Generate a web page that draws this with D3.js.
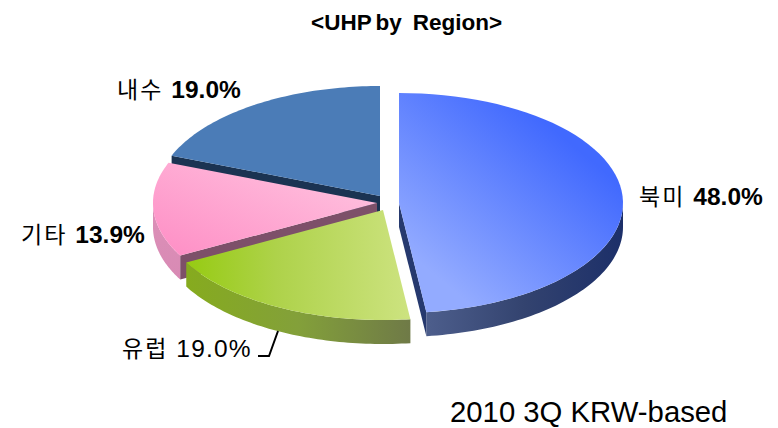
<!DOCTYPE html>
<html lang="ko">
  <head>
    <meta charset="UTF-8" />
    <title>UHP by Region</title>
    <style>
      html, body { margin: 0; padding: 0; background: #fff; }
      svg { display: block; }
      text { font-family: "Liberation Sans", Arial, sans-serif; fill: #000; }
      .kr { font-family: "Noto Sans CJK KR", sans-serif; font-weight: 400; }
    </style>
  </head>
  <body>
    <div class="container"></div>
    <script src="https://d3js.org/d3.v7.min.js"></script>
    <script>
      // data
      const regions = ["북미", "유럽", "기타", "내수"];
      const shares = [48.0, 19.0, 13.9, 19.0];
      const shareLabels = ["48.0%", "19.0%", "13.9%", "19.0%"];

      // layout
      const width = 778, height = 428;
      const rx = 224, ry = 110, depth = 24;
      const centers = [[399, 203], [383, 210], [377, 203], [380, 196]];
      const labelPos = [[639, 205], [122, 357], [21, 243], [117, 98]];
      const labelBold = [true, false, true, true];

      const topColors = ["url(#blueTop)", "url(#greenTop)", "url(#pinkTop)", "#4b7cb7"];
      const wallColors = ["url(#blueWall)", "url(#greenWall)", "url(#pinkWall)", "#1b3352"];
      const edgeColors = ["#26396e", "#6f7f3a", "#7d5069", "#1b3352"];

      const svg = d3.select(".container").append("svg")
        .attr("width", width).attr("height", height);

      // gradients
      const defs = svg.append("defs");
      function gradient(id, x1, y1, x2, y2, stops) {
        const g = defs.append("linearGradient").attr("id", id)
          .attr("x1", x1).attr("y1", y1).attr("x2", x2).attr("y2", y2);
        stops.forEach((s) => g.append("stop").attr("offset", s[0]).attr("stop-color", s[1]));
      }
      gradient("blueTop", 0.85, 0.3, 0.3, 0.95, [[0, "#4169fe"], [1, "#93abff"]]);
      gradient("greenTop", 0, 0.5, 1, 0.5, [[0, "#96cb12"], [0.4, "#aed24a"], [1, "#cde380"]]);
      gradient("pinkTop", 0, 0.9, 0.9, 0.1, [[0, "#fe90c6"], [1, "#ffc2df"]]);
      gradient("blueWall", 0, 0.5, 1, 0.5, [[0, "#4d5e8c"], [0.5, "#33436f"], [1, "#1c2f69"]]);
      gradient("greenWall", 0, 0.5, 1, 0.5, [[0, "#86ab1e"], [0.5, "#83a03a"], [1, "#6f7a47"]]);
      gradient("pinkWall", 0, 0, 0, 1, [[0, "#dc90b8"], [1, "#d88ab4"]]);

      // pie angles
      const slices = d3.pie().sort(null)(shares);
      const toX = (a) => rx * Math.sin(a);
      const toY = (a) => -ry * Math.cos(a);
      const arcLine = d3.line().x((a) => toX(a)).y((a) => toY(a));

      function arcAngles(a0, a1) {
        return d3.range(0, 61).map((i) => a0 + ((a1 - a0) * i) / 60);
      }
      function topPath(d) {
        return arcLine(arcAngles(d.startAngle, d.endAngle)) + "L0,0Z";
      }
      // front rim: only the part of the arc that faces the viewer (angle 90 to 270 deg)
      function wallPath(d) {
        const a0 = Math.max(d.startAngle, Math.PI / 2);
        const a1 = Math.min(d.endAngle, (3 * Math.PI) / 2);
        if (a1 <= a0) return null;
        const angles = arcAngles(a0, a1);
        const pts = angles.map((a) => [toX(a), toY(a)]);
        const low = angles.slice().reverse().map((a) => [toX(a), toY(a) + depth]);
        return d3.line()(pts.concat(low)) + "Z";
      }
      // cut edge that is turned to the viewer, extruded down from the centre
      function edgePath(a) {
        return d3.line()([[0, 0], [toX(a), toY(a)], [toX(a), toY(a) + depth], [0, depth]]) + "Z";
      }

      // painter's order: back slice first, exploded blue last
      const order = [3, 2, 1, 0];
      const edgeAngle = [slices[0].endAngle, null, slices[2].startAngle, slices[3].startAngle];
      const pie = svg.append("g");
      order.forEach((i) => {
        const d = slices[i];
        const g = pie.append("g").attr("transform", `translate(${centers[i][0]},${centers[i][1]})`);
        const wall = wallPath(d);
        if (wall) g.append("path").attr("d", wall).attr("fill", wallColors[i]);
        if (edgeAngle[i] !== null) g.append("path").attr("d", edgePath(edgeAngle[i])).attr("fill", edgeColors[i]);
        g.append("path").attr("d", topPath(d)).attr("fill", topColors[i]);
      });

      // title
      const title = svg.append("text").attr("x", 311).attr("y", 30)
        .attr("font-size", 22.5).attr("font-weight", 700);
      title.append("tspan").attr("word-spacing", -2).text("<UHP by");
      title.append("tspan").attr("dx", 11).text("Region>");

      // labels
      regions.forEach((r, i) => {
        const t = svg.append("text").attr("x", labelPos[i][0]).attr("y", labelPos[i][1]);
        t.append("tspan").attr("class", "kr").attr("font-size", 23).attr("letter-spacing", 2).text(r);
        t.append("tspan").attr("dx", 8).attr("font-size", 24.5)
          .attr("font-weight", labelBold[i] ? 700 : 400)
          .attr("letter-spacing", labelBold[i] ? 0 : 1.2).text(shareLabels[i]);
      });

      // leader line for 유럽
      svg.append("path").attr("d", d3.line()([[278, 331], [269, 356], [258, 356]]))
        .attr("fill", "none").attr("stroke", "#000").attr("stroke-width", 2);

      // note
      svg.append("text").attr("x", 450).attr("y", 422).attr("font-size", 29.3).text("2010 3Q KRW-based");
    </script>
  </body>
</html>
